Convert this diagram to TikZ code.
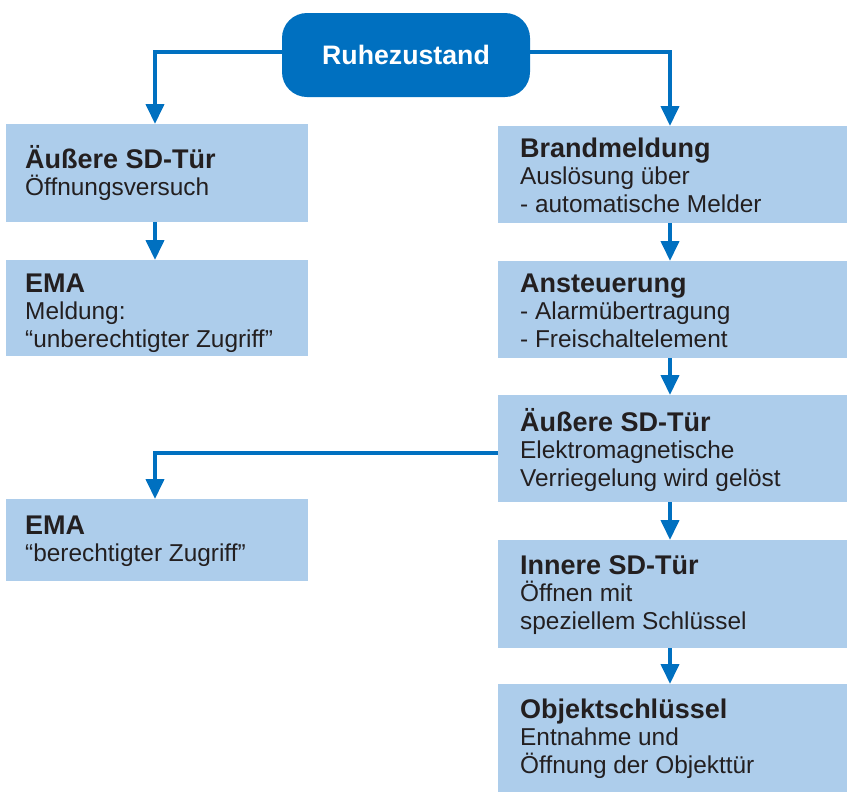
\documentclass[tikz,border=0pt]{standalone}
\usepackage{fontspec}
\setmainfont{Liberation Sans}
\usetikzlibrary{arrows.meta}
\definecolor{dblue}{RGB}{0,112,192}
\definecolor{lblue}{RGB}{173,205,235}
\definecolor{txt}{RGB}{35,31,32}
\newcommand{\ttl}[1]{{\fontsize{27}{27.7}\selectfont\bfseries #1}}
\newcommand{\blk}[1]{\parbox[t]{320pt}{\raggedright #1}}
\begin{document}
\begin{tikzpicture}[x=1pt,y=-1pt,
  box/.style={fill=lblue, draw=none, anchor=north west, inner sep=0pt, outer sep=0pt},
  lbox/.style={box, minimum width=302pt},
  rbox/.style={box, minimum width=349pt},
  arr/.style={draw=dblue, line width=4pt, -{Triangle[width=18pt,length=20pt]}},
  lbl/.style={anchor=base west, inner sep=0pt, text=txt, font=\fontsize{24.4}{27.7}\selectfont}
]
\useasboundingbox (0,0) rectangle (847,793);

% start node
\node[fill=dblue, rounded corners=25pt, minimum width=248pt, minimum height=84pt,
      anchor=north west, inner sep=0pt, outer sep=0pt, text=white,
      font=\fontsize{26.7}{30}\selectfont\bfseries] (R) at (282,13) {Ruhezustand};

% left boxes
\node[lbox, minimum height=98pt] (L1) at (6,124) {};
\node[lbox, minimum height=96pt] (L2) at (6,260) {};
\node[lbox, minimum height=82pt] (L3) at (6,499) {};

% right boxes
\node[rbox, minimum height=97pt] (R1) at (498,126) {};
\node[rbox, minimum height=97pt] (R2) at (498,261) {};
\node[rbox, minimum height=107pt] (R3) at (498,395) {};
\node[rbox, minimum height=108pt] (R4) at (498,540) {};
\node[rbox, minimum height=108pt] (R5) at (498,684) {};

% texts
\node[lbl] (tL1) at (25,168) {\blk{\ttl{Äußere SD-Tür}\\Öffnungsversuch}};
\node[lbl] (tL2) at (25,292) {\blk{\ttl{EMA}\\Meldung:\\“unberechtigter Zugriff”}};
\node[lbl] (tL3) at (25,534) {\blk{\ttl{EMA}\\“berechtigter Zugriff”}};
\node[lbl] (tR1) at (520,157) {\blk{\ttl{Brandmeldung}\\Auslösung über\\- automatische Melder}};
\node[lbl] (tR2) at (520,292) {\blk{\ttl{Ansteuerung}\\- Alarmübertragung\\- Freischaltelement}};
\node[lbl] (tR3) at (520,431) {\blk{\ttl{Äußere SD-Tür}\\Elektromagnetische\\Verriegelung wird gelöst}};
\node[lbl] (tR4) at (520,574) {\blk{\ttl{Innere SD-Tür}\\Öffnen mit\\speziellem Schlüssel}};
\node[lbl] (tR5) at (520,718) {\blk{\ttl{Objektschlüssel}\\Entnahme und\\Öffnung der Objekttür}};

% connectors
\draw[arr] ([yshift=3pt]R.west) -| ([xshift=-2pt]L1.north);
\draw[arr] ([yshift=3pt]R.east) -| ([xshift=-2.5pt]R1.north);
\draw[arr] ([xshift=-2pt]L1.south) -- ([xshift=-2pt]L2.north);
\draw[arr] ([xshift=-2.5pt]R1.south) -- ([xshift=-2.5pt]R2.north);
\draw[arr] ([xshift=-2.5pt]R2.south) -- ([xshift=-2.5pt]R3.north);
\draw[arr] ([xshift=-2.5pt]R3.south) -- ([xshift=-2.5pt]R4.north);
\draw[arr] ([xshift=-2.5pt]R4.south) -- ([xshift=-2.5pt]R5.north);
\draw[arr] ([yshift=-4.5pt]R3.west) -| ([xshift=-2pt]L3.north);
\end{tikzpicture}
\end{document}
